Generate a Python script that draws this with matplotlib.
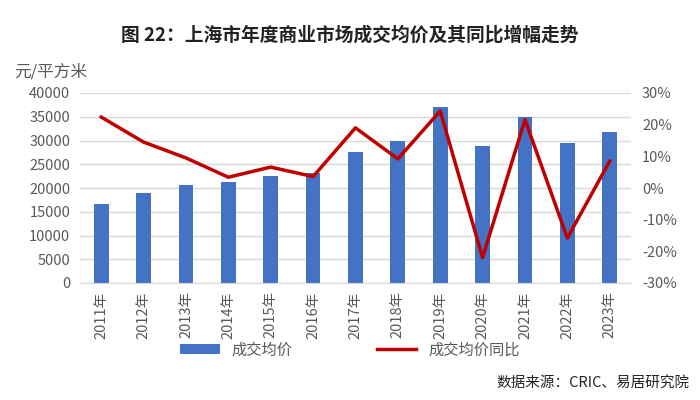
import matplotlib
matplotlib.use("Agg")
import matplotlib.pyplot as plt
import numpy as np
from matplotlib.ticker import FuncFormatter

plt.rcParams['font.family'] = ['Noto Sans CJK SC', 'DejaVu Sans']

years = ['2011年', '2012年', '2013年', '2014年', '2015年', '2016年', '2017年',
         '2018年', '2019年', '2020年', '2021年', '2022年', '2023年']
price = [16600, 18900, 20600, 21250, 22600, 23150, 27600,
         29900, 37050, 28800, 34950, 29500, 31800]
yoy = [22.4, 14.5, 9.5, 3.4, 6.6, 3.6, 19.0,
       9.2, 24.3, -22.0, 21.6, -15.8, 8.5]

gray = '#595959'
fig = plt.figure(figsize=(7, 4), dpi=100)
ax = fig.add_axes([0.1143, 0.2925, 0.787, 0.475])
x = np.arange(len(years))

ax.bar(x, price, width=0.35, color='#4472C4', label='成交均价', zorder=2)
ax.set_ylim(0, 40000)
ax.set_yticks(np.arange(0, 40001, 5000))
ax.set_xlim(-0.5, len(years) - 0.5)
ax.set_xticks(x)
ax.set_xticklabels(years, rotation=90)
ax.grid(axis='y', color='#d9d9d9', linewidth=1, zorder=0)
ax.set_axisbelow(True)
for s in ['top', 'right', 'left']:
    ax.spines[s].set_visible(False)
ax.spines['bottom'].set_color('#d9d9d9')
ax.tick_params(axis='both', length=0, colors=gray, labelsize=10.5)
ax.tick_params(axis='y', pad=7)
ax.tick_params(axis='x', pad=6)

ax2 = ax.twinx()
ax2.plot(x, yoy, color='#C00000', linewidth=2.5, label='成交均价同比', zorder=3)
ax2.set_ylim(-30, 30)
ax2.set_yticks(np.arange(-30, 31, 10))
ax2.yaxis.set_major_formatter(FuncFormatter(lambda v, p: f'{v:.0f}%'))
for s in ['top', 'right', 'left', 'bottom']:
    ax2.spines[s].set_visible(False)
ax2.tick_params(axis='y', length=0, colors=gray, labelsize=10.5, pad=8)

fig.text(0.5, 0.912, '图 22：上海市年度商业市场成交均价及其同比增幅走势',
         ha='center', va='center', fontsize=13.5, fontweight='bold', color='#222222')
fig.text(0.02, 0.82, '元/平方米', ha='left', va='center', fontsize=12, color=gray)

h1, l1 = ax.get_legend_handles_labels()
h2, l2 = ax2.get_legend_handles_labels()
fig.legend(h1 + h2, l1 + l2, loc='center', bbox_to_anchor=(0.5, 0.125), ncol=2,
           frameon=False, fontsize=11, labelcolor=gray, columnspacing=5.5,
           handlelength=2.6, handleheight=0.6)

fig.text(0.985, 0.043, '数据来源：CRIC、易居研究院', ha='right', va='center',
         fontsize=10.5, color='#222222')

fig.savefig('out.png', dpi=100)
